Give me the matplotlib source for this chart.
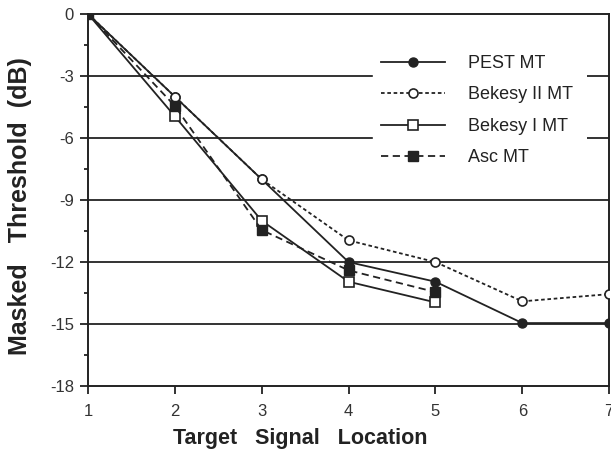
import matplotlib
matplotlib.use("Agg")
import matplotlib.pyplot as plt
from matplotlib.ticker import MultipleLocator
from matplotlib.patches import Rectangle

plt.rcParams['font.family'] = ['Liberation Sans', 'DejaVu Sans']

locations = [1, 2, 3, 4, 5, 6, 7]
pest_mt = [0, -4.0, -8.0, -12.0, -12.95, -14.95, -14.95]
bekesy2_mt = [0, -4.0, -8.0, -10.95, -12.0, -13.9, -13.55]
bekesy1_loc = [1, 2, 3, 4, 5]
bekesy1_mt = [0, -4.95, -10.0, -12.95, -13.95]
asc_loc = [1, 2, 3, 4, 5]
asc_mt = [0, -4.45, -10.45, -12.4, -13.45]
y_ticks = [-18, -15, -12, -9, -6, -3, 0]

fig = plt.figure(figsize=(6.11, 4.49), dpi=100)
ax = fig.add_axes([0.144, 0.140, 0.853, 0.829])

for yv in [-3, -6, -9, -12, -15]:
    ax.axhline(yv, color='#333333', lw=1.4, zorder=1)

# white area behind the legend that interrupts the grid lines
ax.add_patch(Rectangle((0.547, 0.575), 0.411, 0.336, transform=ax.transAxes,
                       facecolor='white', edgecolor='none', zorder=1.5))

ms = 6.5
ax.plot(locations, pest_mt, '-', color='#222222', lw=1.3, marker='o', ms=ms,
        mfc='#222222', mec='#222222', label='PEST MT', zorder=3)
ax.plot(locations, bekesy2_mt, linestyle=(0, (2, 1.5)), color='#222222', lw=1.3,
        marker='o', ms=ms, mfc='white', mec='#222222', mew=1.2, label='Bekesy II MT', zorder=4)
ax.plot(bekesy1_loc, bekesy1_mt, '-', color='#222222', lw=1.3, marker='s', ms=ms,
        mfc='white', mec='#222222', mew=1.2, label='Bekesy I MT', zorder=3)
ax.plot(asc_loc, asc_mt, linestyle=(0, (4, 2.5)), color='#222222', lw=1.3, marker='s', ms=ms,
        mfc='#222222', mec='#222222', label='Asc MT', zorder=5)

ax.set_xlim(1, 7)
ax.set_ylim(-18, 0)
ax.set_xticks(locations)
ax.set_yticks(y_ticks)
ax.set_yticklabels([str(v) for v in y_ticks])
ax.yaxis.set_minor_locator(MultipleLocator(1.5))
ax.tick_params(axis='both', which='major', direction='out', length=6, width=1.3,
               labelsize=12, colors='#222222', labelcolor='#333333', pad=4)
ax.tick_params(axis='y', which='minor', direction='out', length=3, width=1.3, color='#222222')
ax.tick_params(axis='x', pad=7)
for s in ax.spines.values():
    s.set_linewidth(1.4)
    s.set_color('#222222')

ax.set_xlabel('Target   Signal   Location', fontsize=15.5, fontweight='bold', color='#222222')
ax.xaxis.set_label_coords(0.407, -0.112)
ax.set_ylabel('Masked   Threshold  (dB)', fontsize=18, fontweight='bold', color='#222222')
ax.yaxis.set_label_coords(-0.108, 0.484)

leg = ax.legend(loc='upper left', bbox_to_anchor=(0.547, 0.912), borderaxespad=0,
                frameon=True, fancybox=False,
                edgecolor='white', facecolor='white', framealpha=1.0, fontsize=13,
                handlelength=3.55, handletextpad=1.22, labelspacing=0.8, borderpad=0.46)
leg.set_zorder(6)
for t in leg.get_texts():
    t.set_color('#222222')

fig.savefig('out.png', dpi=100)
